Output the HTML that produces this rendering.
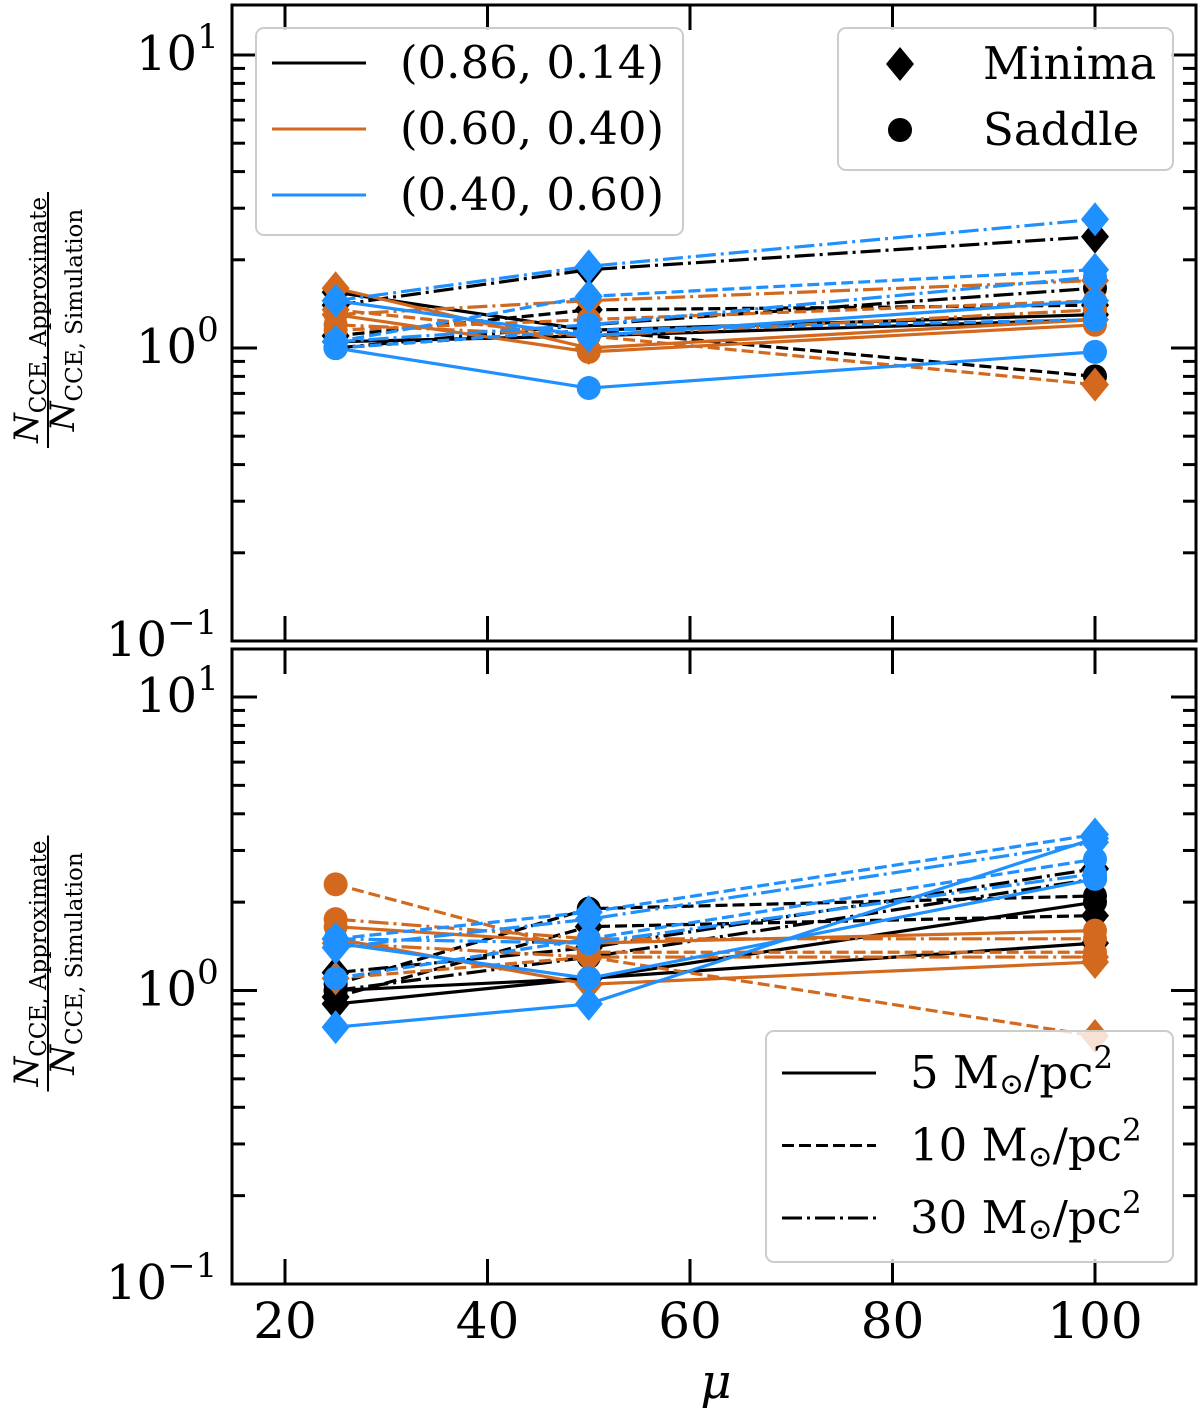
<!DOCTYPE html>
<html><head><meta charset="utf-8"><style>
body{margin:0;background:#fff}
svg{display:block;font-family:"DejaVu Serif","Liberation Serif",serif}
</style></head><body>
<svg id="c" width="1200" height="1409" viewBox="0 0 1200 1409" xmlns="http://www.w3.org/2000/svg"></svg>
<script>
const NS="http://www.w3.org/2000/svg";
const xCats=[25,50,100];
const xTicks=[20,40,60,80,100];
const colorNames=["black","orange","blue"];
const colors=["#000000","#d2691e","#1e90ff"];
const styles=["solid","dashed","dashdot"];
const topMinima=[
 [[1.55,1.15,1.3],[1.1,1.35,1.4],[1.4,1.85,2.4]],
 [[1.6,1.0,1.25],[1.35,1.1,0.75],[1.3,1.45,1.7]],
 [[1.45,1.1,1.45],[1.05,1.5,1.85],[1.45,1.9,2.75]]];
const topSaddle=[
 [[1.05,1.1,1.25],[1.0,1.15,0.8],[1.0,1.2,1.6]],
 [[1.3,0.97,1.2],[1.15,1.25,1.45],[1.2,1.1,1.35]],
 [[1.0,0.73,0.97],[1.0,1.15,1.25],[1.05,1.2,1.75]]];
const botMinima=[
 [[0.9,1.1,1.45],[0.95,1.65,1.8],[1.15,1.4,2.6]],
 [[1.5,1.05,1.25],[1.1,1.3,0.7],[1.45,1.3,1.3]],
 [[0.75,0.9,3.3],[1.5,1.85,3.4],[1.4,1.75,3.2]]];
const botSaddle=[
 [[1.0,1.1,2.0],[1.05,1.9,2.1],[1.0,1.3,2.4]],
 [[1.65,1.45,1.6],[2.3,1.35,1.35],[1.75,1.5,1.5]],
 [[1.45,1.1,2.4],[1.1,1.5,2.8],[1.5,1.45,2.5]]];
const yTickExp=[-1,0,1];

const svg=document.getElementById('c');
function el(t,a,p){const e=document.createElementNS(NS,t);for(const k in a)e.setAttribute(k,a[k]);(p||svg).appendChild(e);return e;}
const X0=232,X1=1196;
const xs=v=>285+(v-20)*(1095-285)/80;
const dash={solid:null,dashed:"12,5",dashdot:"20,5,3,5"};

function panel(top,bottom,y10,minima,saddle,name){
  const g=el('g',{});
  
  
  const dec=(bottom-y10)/2;
  const ys=v=>y10+(1-Math.log10(v))*dec;
  for(let c=0;c<3;c++)for(let s=0;s<3;s++){
    [[minima,'minima'],[saddle,'saddle']].forEach(([arr,kind])=>{
      const vals=arr[c][s];
      const sg=el('g',{},g);
      
      
      const pts=vals.map((v,i)=>xs(xCats[i])+','+ys(v)).join(' ');
      const pl=el('polyline',{points:pts,fill:'none',stroke:colors[c],'stroke-width':3.2},sg);
      if(dash[styles[s]])pl.setAttribute('stroke-dasharray',dash[styles[s]]);
      vals.forEach((v,i)=>{
        const x=xs(xCats[i]),y=ys(v);let m;
        if(kind==='minima')m=el('polygon',{points:`${x},${y-17} ${x+14},${y} ${x},${y+17} ${x-14},${y}`,fill:colors[c]},sg);
        else m=el('circle',{cx:x,cy:y,r:12,fill:colors[c]},sg);
        
        
      });
    });
  }
  const tk=el('g',{stroke:'#000','stroke-width':3},g);
  xTicks.forEach(v=>{const x=xs(v);
    el('line',{x1:x,y1:bottom,x2:x,y2:bottom-25},tk);
    el('line',{x1:x,y1:top,x2:x,y2:top+25},tk);});
  for(let e=-1;e<=1;e++){
    for(let m=1;m<=9;m++){
      const v=m*Math.pow(10,e);const y=ys(v);
      if(y<top||y>bottom)continue;
      const L=m===1?25:13;
      el('line',{x1:X0,y1:y,x2:X0+L,y2:y},tk);
      el('line',{x1:X1,y1:y,x2:X1-L,y2:y},tk);
    }
  }
  yTickExp.forEach(e=>{
    const t=el('text',{x:e===-1?106:136,y:ys(Math.pow(10,e))+15,'font-size':48},g);
    
    
    t.textContent='10';
    const sp=el('tspan',{dy:-22,'font-size':34},t);sp.textContent=e===-1?'\u22121':String(e);
  });
  el('rect',{x:X0,y:top,width:X1-X0,height:bottom-top,fill:'none',stroke:'#000','stroke-width':3},g);
  const cy=(top+bottom)/2-3;
  const yl=el('g',{transform:`translate(48,${cy}) rotate(-90)`},g);
  
  
  el('line',{x1:-128,y1:0,x2:128,y2:0,stroke:'#000','stroke-width':2},yl);
  const n=el('text',{x:0,y:-10,'text-anchor':'middle','font-size':34},yl);
  n.innerHTML='<tspan font-style="italic">N</tspan><tspan font-size="23" dy="8">CCE, Approximate</tspan>';
  const d=el('text',{x:0,y:26,'text-anchor':'middle','font-size':34},yl);
  d.innerHTML='<tspan font-style="italic">N</tspan><tspan font-size="23" dy="8">CCE, Simulation</tspan>';
}
panel(5,641,55,topMinima,topSaddle,'top-panel');
panel(649,1284,697,botMinima,botSaddle,'bottom-panel');

xTicks.forEach(v=>{const t=el('text',{x:xs(v),y:1338,'text-anchor':'middle','font-size':50});
  t.textContent=v;});
const xl=el('text',{x:716,y:1398,'text-anchor':'middle','font-size':48,'font-style':'italic'});
xl.textContent='μ';

function legendBox(x,y,w,h,name){const g=el('g',{});
 el('rect',{x,y,width:w,height:h,rx:8,fill:'#fff','fill-opacity':0.8,stroke:'#cccccc','stroke-width':2},g);return g;}
let lg=legendBox(256,28,427,207,'ratio-legend');
[['(0.86, 0.14)',0],['(0.60, 0.40)',1],['(0.40, 0.60)',2]].forEach(([t,c],i)=>{
  const y=63+i*66;
  el('line',{x1:272,y1:y,x2:366,y2:y,stroke:colors[c],'stroke-width':3},lg);
  const tx=el('text',{x:400,y:y+15,'font-size':45},lg);tx.textContent=t;
  });
lg=legendBox(838,28,335,142,'marker-legend');
el('polygon',{points:'900,47 914,64 900,81 886,64',fill:'#000'},lg);
el('circle',{cx:900,cy:130,r:12,fill:'#000'},lg);
[['Minima',64],['Saddle',130]].forEach(([t,y])=>{const tx=el('text',{x:983,y:y+15,'font-size':45},lg);tx.textContent=t;
  });
lg=legendBox(766,1031,407,231,'density-legend');
[['5',0],['10',1],['30',2]].forEach(([t,s],i)=>{
  const y=1073+i*72.5;
  const l=el('line',{x1:782,y1:y,x2:876,y2:y,stroke:'#000','stroke-width':3},lg);
  if(dash[styles[s]])l.setAttribute('stroke-dasharray',dash[styles[s]]);
  const tx=el('text',{x:910,y:y+15,'font-size':45},lg);
  tx.innerHTML=t+' M<tspan font-size="30" dy="6">\u2299</tspan><tspan dy="-6">/pc</tspan><tspan dy="-20" font-size="31">2</tspan>';
  });
</script>
</body></html>
